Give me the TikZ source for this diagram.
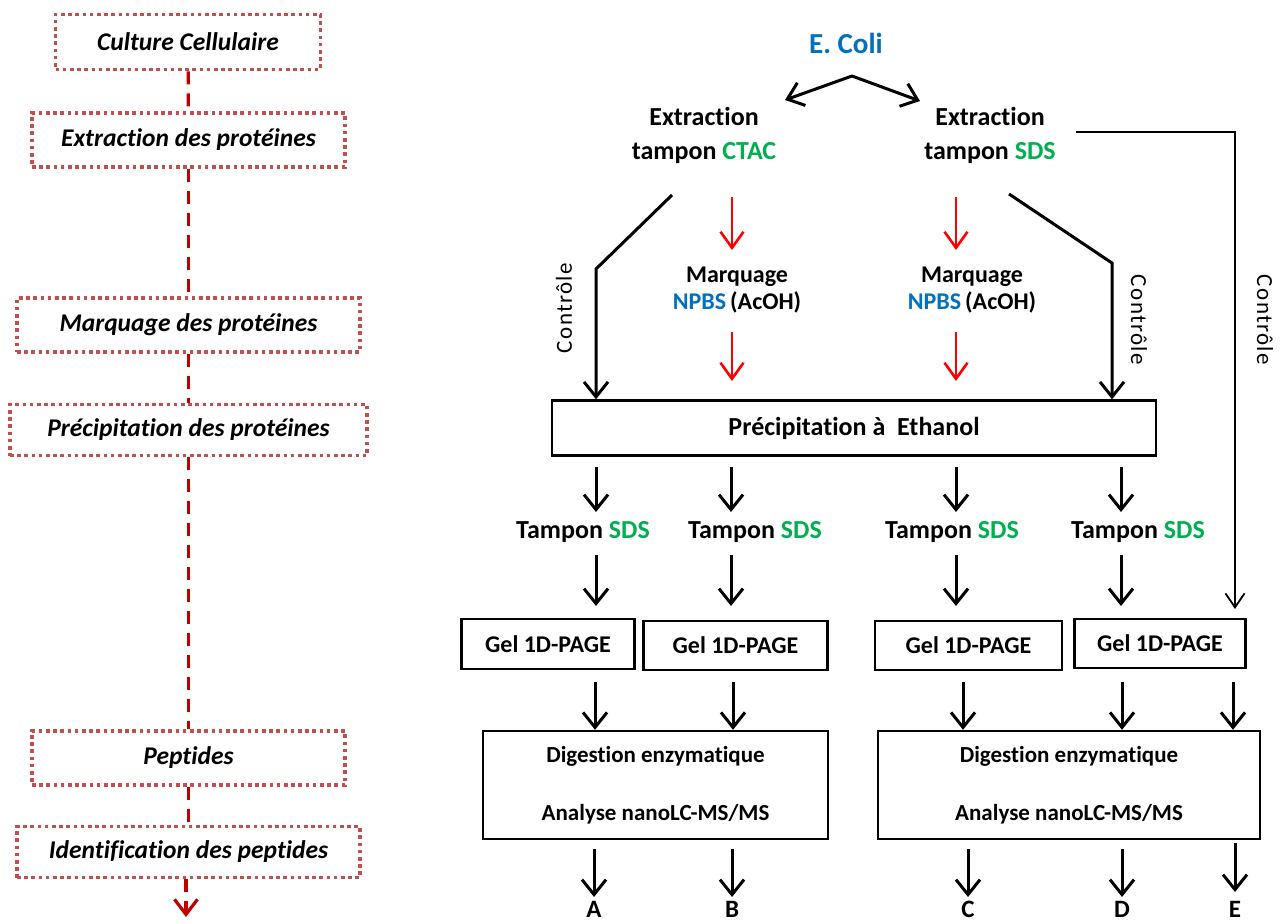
\documentclass[tikz,border=0pt]{standalone}
\usepackage{fontspec}
\setmainfont{Carlito}[Ligatures=NoCommon]
\newfontfamily\ctlfont[LetterSpace=6,Ligatures=NoCommon]{Carlito}
\usetikzlibrary{arrows.meta}
\definecolor{lred}{HTML}{C0504D}
\definecolor{dred}{HTML}{C00000}
\definecolor{ecblue}{HTML}{0070C0}
\definecolor{sgreen}{HTML}{00B050}
\begin{document}
\begin{tikzpicture}[x=1pt,y=-1pt,
  lbox/.style={draw=lred, line width=3.6pt, dash pattern=on 3.6pt off 3.6pt, inner sep=0pt,
     font=\fontsize{25.5}{30}\selectfont\bfseries\itshape},
  ldash/.style={draw=dred, line width=3.2pt, dash pattern=on 13pt off 9pt},
  arr/.style={-{Straight Barb[length=15pt,width=24pt]}, line width=3pt},
  rarr/.style={-{Straight Barb[length=16pt,width=23pt]}, line width=2.6pt, draw=red},
  thinarr/.style={-{Straight Barb[length=14pt,width=19pt]}, line width=1.8pt},
  lbl/.style={font=\fontsize{26}{34}\selectfont\bfseries, inner sep=0pt, align=center},
  mlbl/.style={font=\fontsize{24}{27}\selectfont\bfseries, inner sep=0pt, align=center},
  bx/.style={draw, line width=2.4pt, inner sep=0pt},
  ctl/.style={font=\fontsize{23}{26}\ctlfont, inner sep=0pt},
  letter/.style={font=\fontsize{25}{28}\selectfont\bfseries, anchor=north, inner sep=0pt}
]
\useasboundingbox (0,0) rectangle (1283,923);

% ---------- left column ----------
\node[lbox, minimum width=265pt, minimum height=55pt] (c1) at (188,42) {Culture Cellulaire};
\node[lbox, minimum width=313pt, minimum height=54pt] (c2) at (188.5,140) {Extraction des protéines};
\node[lbox, minimum width=343pt, minimum height=54pt] (c3) at (188.5,325) {Marquage des protéines};
\node[lbox, minimum width=357pt, minimum height=51pt] (c4) at (188.5,430) {Précipitation des protéines};
\node[lbox, minimum width=313pt, minimum height=54pt] (c5) at (188.5,758) {Peptides};
\node[lbox, minimum width=343pt, minimum height=51pt] (c6) at (188.5,852) {Identification des peptides};
\coordinate (lend) at (186,917);
\draw[ldash] (c1) -- (c2);
\draw[ldash] (c2) -- (c3);
\draw[ldash] (c3) -- (c4);
\draw[ldash] (c4) -- (c5);
\draw[ldash] (c5) -- (c6);
\draw[ldash, -{Straight Barb[length=15pt,width=23pt]}] (c6.south -| lend) -- (lend);

% ---------- right: top ----------
\node[font=\fontsize{29}{34}\selectfont\bfseries, text=ecblue, inner sep=0pt] (ecoli) at (846,43) {E. Coli};
\node[lbl] (ext1) at (704,135) {Extraction\\tampon \textcolor{sgreen}{CTAC}};
\node[lbl] (ext2) at (990,135) {Extraction\\tampon \textcolor{sgreen}{SDS}};
\coordinate (apex) at (852,76);
\coordinate (tipL) at (785,100);
\coordinate (tipR) at (920,101);
\draw[arr, line cap=round] (apex) -- (tipL);
\draw[arr, line cap=round] (apex) -- (tipR);

% Marquage labels
\node[mlbl] (m1) at (737,290) {Marquage\\\textcolor{ecblue}{NPBS}\,(AcOH)};
\node[mlbl] (m2) at (972,290) {Marquage\\\textcolor{ecblue}{NPBS}\,(AcOH)};

% Precipitation box
\node[bx, minimum width=604pt, minimum height=55pt, font=\fontsize{26}{30}\selectfont\bfseries] (prec) at (854,428) {Précipitation à\ \ Ethanol};

% control branches
\coordinate (l0) at (672,195);
\coordinate (l1) at (596,269);
\coordinate (r0) at (1009,194);
\coordinate (r1) at (1112,263);
\draw[arr] (l0) -- (l1) -- (l1 |- prec.north);
\draw[arr] (r0) -- (r1) -- (r1 |- prec.north);
\node[ctl, rotate=90] (ctlL) at (564,308) {Contrôle};
\node[ctl, rotate=-90] (ctlR) at (1139,320) {Contrôle};

% red marquage arrows
\coordinate (ra0) at (732,197);
\coordinate (ra1) at (732,250);
\coordinate (rb0) at (956,197);
\coordinate (rb1) at (956,250);
\coordinate (ra2) at (732,332);
\coordinate (ra3) at (732,381);
\coordinate (rb2) at (956,332);
\coordinate (rb3) at (956,381);
\draw[rarr] (ra0) -- (ra1);
\draw[rarr] (rb0) -- (rb1);
\draw[rarr] (ra2) -- (ra3);
\draw[rarr] (rb2) -- (rb3);

% far right control
\coordinate (s0) at (1076,132);
\coordinate (s1) at (1235,132);
\coordinate (s2) at (1235,609);
\draw[thinarr] (s0) -- (s1) -- (s2);
\node[ctl, rotate=-90] (ctlF) at (1265,320) {Contrôle};

% ---------- Tampon SDS ----------
\node[lbl] (t1) at (583,532) {Tampon \textcolor{sgreen}{SDS}};
\node[lbl] (t2) at (755,532) {Tampon \textcolor{sgreen}{SDS}};
\node[lbl] (t3) at (952,532) {Tampon \textcolor{sgreen}{SDS}};
\node[lbl] (t4) at (1138,532) {Tampon \textcolor{sgreen}{SDS}};

\foreach \x/\n in {596/1,731/2,956/3,1121/4}{
  \coordinate (pa\n) at (\x,467);
  \coordinate (pb\n) at (\x,512);
  \coordinate (pc\n) at (\x,555);
  \coordinate (pd\n) at (\x,606);
}
\draw[arr] (pa1) -- (pb1);
\draw[arr] (pa2) -- (pb2);
\draw[arr] (pa3) -- (pb3);
\draw[arr] (pa4) -- (pb4);
\draw[arr] (pc1) -- (pd1);
\draw[arr] (pc2) -- (pd2);
\draw[arr] (pc3) -- (pd3);
\draw[arr] (pc4) -- (pd4);

% ---------- Gel boxes ----------
\node[bx, minimum width=173pt, minimum height=50pt, font=\fontsize{24}{28}\selectfont\bfseries] (g1) at (548,644) {Gel 1D-PAGE};
\node[bx, minimum width=184pt, minimum height=49pt, font=\fontsize{24}{28}\selectfont\bfseries] (g2) at (735.5,645.5) {Gel 1D-PAGE};
\node[bx, minimum width=187pt, minimum height=49pt, font=\fontsize{24}{28}\selectfont\bfseries] (g3) at (968.5,645.5) {Gel 1D-PAGE};
\node[bx, minimum width=171pt, minimum height=49pt, font=\fontsize{24}{28}\selectfont\bfseries] (g4) at (1160,643.5) {Gel 1D-PAGE};

% ---------- Digestion boxes ----------
\node[bx, minimum width=345pt, minimum height=108pt, align=center, font=\fontsize{23}{58}\selectfont\bfseries] (d1) at (655.5,785) {Digestion enzymatique\\Analyse nanoLC-MS/MS};
\node[bx, minimum width=382pt, minimum height=108pt, align=center, font=\fontsize{23}{58}\selectfont\bfseries] (d2) at (1069,785) {Digestion enzymatique\\Analyse nanoLC-MS/MS};

\foreach \x/\n in {595/1,733/2,963/3,1122/4,1233/5}{
  \coordinate (ga\n) at (\x,682);
}
\draw[arr] (ga1) -- (ga1 |- d1.north);
\draw[arr] (ga2) -- (ga2 |- d1.north);
\draw[arr] (ga3) -- (ga3 |- d2.north);
\draw[arr] (ga4) -- (ga4 |- d2.north);
\draw[arr] (ga5) -- (ga5 |- d2.north);

% ---------- outputs ----------
\node[letter] (A) at (594,901) {A};
\node[letter] (B) at (732,901) {B};
\node[letter] (C) at (968,901) {C};
\node[letter] (D) at (1122,901) {D};
\node[letter] (E) at (1235,901) {E};
\coordinate (oa) at (594,849);
\coordinate (ob) at (732,849);
\coordinate (oc) at (968,849);
\coordinate (od) at (1122,849);
\coordinate (oe) at (1235,843);
\draw[arr] (oa) -- ([yshift=4pt]A.north);
\draw[arr] (ob) -- ([yshift=4pt]B.north);
\draw[arr] (oc) -- ([yshift=4pt]C.north);
\draw[arr] (od) -- ([yshift=4pt]D.north);
\draw[arr] (oe) -- ([yshift=9pt]E.north);
\end{tikzpicture}
\end{document}
